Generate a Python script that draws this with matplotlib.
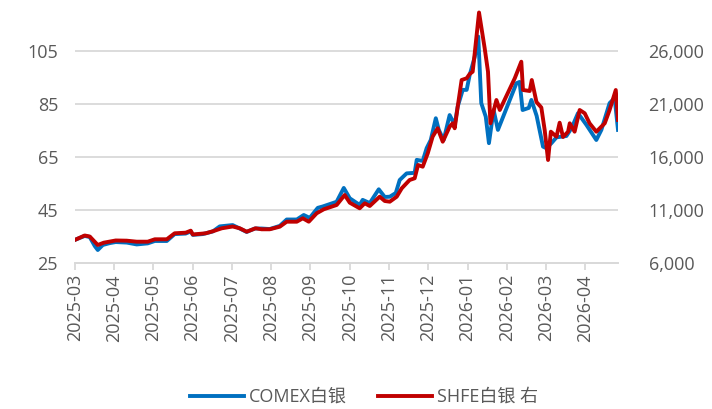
import matplotlib.pyplot as plt

plt.rcParams['font.family'] = ['Open Sans', 'Noto Sans CJK SC', 'DejaVu Sans']

# trading-day index (21 per month label) and values
comex_t = [0, 5.3, 8.0, 10.7, 12.3, 15.0, 18.7, 21.9, 27.8, 33.1, 39.0, 42.8, 49.2,
           53.4, 59.3, 62.0, 63.1, 68.4, 73.8, 77.5, 84.4, 88.2, 91.9, 96.2, 99.9,
           104.2, 109.6, 113.3, 118.7, 122.4, 125.6, 129.9, 132.5, 140.0, 143.8,
           147.0, 152.3, 153.9, 157.7, 162.5, 165.7, 168.4, 171.6, 173.7, 177.4,
           181.7, 182.8, 186.0, 188.1, 190.3, 193.0, 194.6, 197.2, 200.4, 203.1,
           204.7, 207.4, 209.5, 211.1, 213.8, 215.7, 217.3, 219.7, 221.4, 223.9,
           226.2, 236.1, 237.8, 239.4, 242.7, 244.1, 246.9, 250.3, 252.1, 254.8,
           257.5, 262.8, 265.6, 269.0, 273.5, 278.8, 281.5, 285.9, 288.6, 290.4]
comex = [33.7, 35.2, 34.8, 31.4, 29.9, 31.8, 32.5, 32.9, 32.7, 32.0, 32.4, 33.3, 33.3,
         35.9, 36.1, 36.9, 35.6, 35.9, 36.9, 38.8, 39.3, 38.0, 36.7, 38.0, 38.0,
         37.8, 39.0, 41.4, 41.4, 43.1, 42.0, 45.8, 46.3, 48.1, 53.3,
         49.4, 46.9, 48.8, 47.6, 52.8, 49.9, 50.0, 51.4, 56.3, 58.8,
         59.0, 63.9, 63.5, 68.3, 71.4, 79.6, 75.2, 71.4, 80.8, 77.1,
         84.0, 90.3, 90.3, 95.9, 102.7, 110.4, 85.3, 80.2, 70.2, 82.7,
         75.2, 92.8, 93.3, 82.7, 83.5, 86.5, 80.5, 68.9, 68.3, 70.2,
         72.4, 72.9, 75.9, 81.5, 77.1, 71.4, 75.2, 85.3, 87.2, 75.2]

shfe_t = [0, 5.3, 8.0, 12.3, 15.5, 21.9, 27.8, 33.1, 39.0, 42.8, 49.2, 53.4, 59.3,
          62.0, 63.1, 70.0, 74.3, 78.6, 84.4, 88.2, 91.9, 96.7, 99.9, 104.2, 109.6,
          113.3, 118.7, 121.9, 125.1, 129.3, 133.1, 140.0, 144.3, 147.0, 152.3,
          155.0, 157.7, 163.0, 165.7, 168.4, 172.1, 174.8, 179.0, 181.7, 183.5,
          186.0, 188.7, 191.3, 194.0, 196.7, 200.4, 202.0, 203.1, 204.7, 206.8,
          209.5, 211.1, 212.7, 213.8, 216.1, 219.1, 220.9, 222.2, 225.4, 227.2,
          235.2, 238.7, 239.6, 243.2, 244.3, 246.8, 249.4, 251.2, 253.0, 254.5,
          257.5, 259.2, 261.0, 263.7, 264.6, 267.2, 269.9, 272.6, 275.2, 278.8,
          283.3, 285.9, 289.2, 290.4]
shfe = [8170, 8594, 8500, 7698, 7915, 8123, 8104, 8009, 8009, 8236, 8236, 8802, 8858,
        9047, 8689, 8802, 9019, 9274, 9443, 9274, 8953, 9274, 9179, 9179, 9425,
        9896, 9896, 10217, 9896, 10689, 11066, 11472, 12415, 11689, 11160,
        11632, 11377, 12255, 11849, 11783, 12255, 13047, 13830, 13991, 15245,
        15085, 16349, 17915, 18708, 17443, 18858, 19179, 18708, 20745, 23264,
        23425, 23830, 24047, 25783, 29632, 26283, 24047, 19179, 21377, 20434,
        23425, 24991, 22321, 22226, 23264, 21189, 20670, 18547, 15717, 18387,
        17915, 19236, 17887, 18387, 19179, 18387, 20434, 20123, 19179, 18387,
        19179, 20434, 22321, 19491]

month_labels = ['2025-03', '2025-04', '2025-05', '2025-06', '2025-07', '2025-08',
                '2025-09', '2025-10', '2025-11', '2025-12', '2026-01', '2026-02',
                '2026-03', '2026-04']
left_ticks = [25, 45, 65, 85, 105]
right_ticks = [6000, 11000, 16000, 21000, 26000]

grey = '#595959'
fig = plt.figure(figsize=(7.12, 4.09), dpi=100)
ax = fig.add_axes([0.105, 0.357, 0.763, 0.643])
ax2 = ax.twinx()

ax.plot(comex_t, comex, color='#0070C0', lw=2.8, label='COMEX白银', solid_joinstyle='round')
ax2.plot(shfe_t, shfe, color='#C00000', lw=2.8, label='SHFE白银 右', solid_joinstyle='round')

ax.set_xlim(0, 290.4)
ax.set_ylim(25, 124.2)
ax2.set_ylim(6000, 30811)
ax.set_yticks(left_ticks)
ax2.set_yticks(right_ticks)
ax2.set_yticklabels([f'{v:,}' for v in right_ticks])
ax.set_xticks([21 * i for i in range(len(month_labels))])
ax.set_xticklabels(month_labels, rotation=90)

ax.grid(axis='y', color='#D9D9D9', lw=1.3)
ax.set_axisbelow(True)
for a in (ax, ax2):
    for s in ('top', 'left', 'right'):
        a.spines[s].set_visible(False)
    a.spines['bottom'].set_color('#D9D9D9')
    a.spines['bottom'].set_linewidth(1.3)
ax.tick_params(axis='y', length=0, labelsize=13, labelcolor=grey, pad=12)
ax2.tick_params(axis='y', length=0, labelsize=13, labelcolor=grey, pad=22)
ax.tick_params(axis='x', length=5, color='#D9D9D9', width=1.3, labelsize=13,
               labelcolor=grey, pad=3)

h1, l1 = ax.get_legend_handles_labels()
h2, l2 = ax2.get_legend_handles_labels()
fig.legend(h1 + h2, l1 + l2, loc='center', bbox_to_anchor=(364 / 712, 1 - 397 / 409),
           ncol=2, frameon=False, fontsize=13, labelcolor=grey, handlelength=3.0,
           handletextpad=0.3, columnspacing=1.7)

plt.savefig('out.png', dpi=100)
plt.close()
